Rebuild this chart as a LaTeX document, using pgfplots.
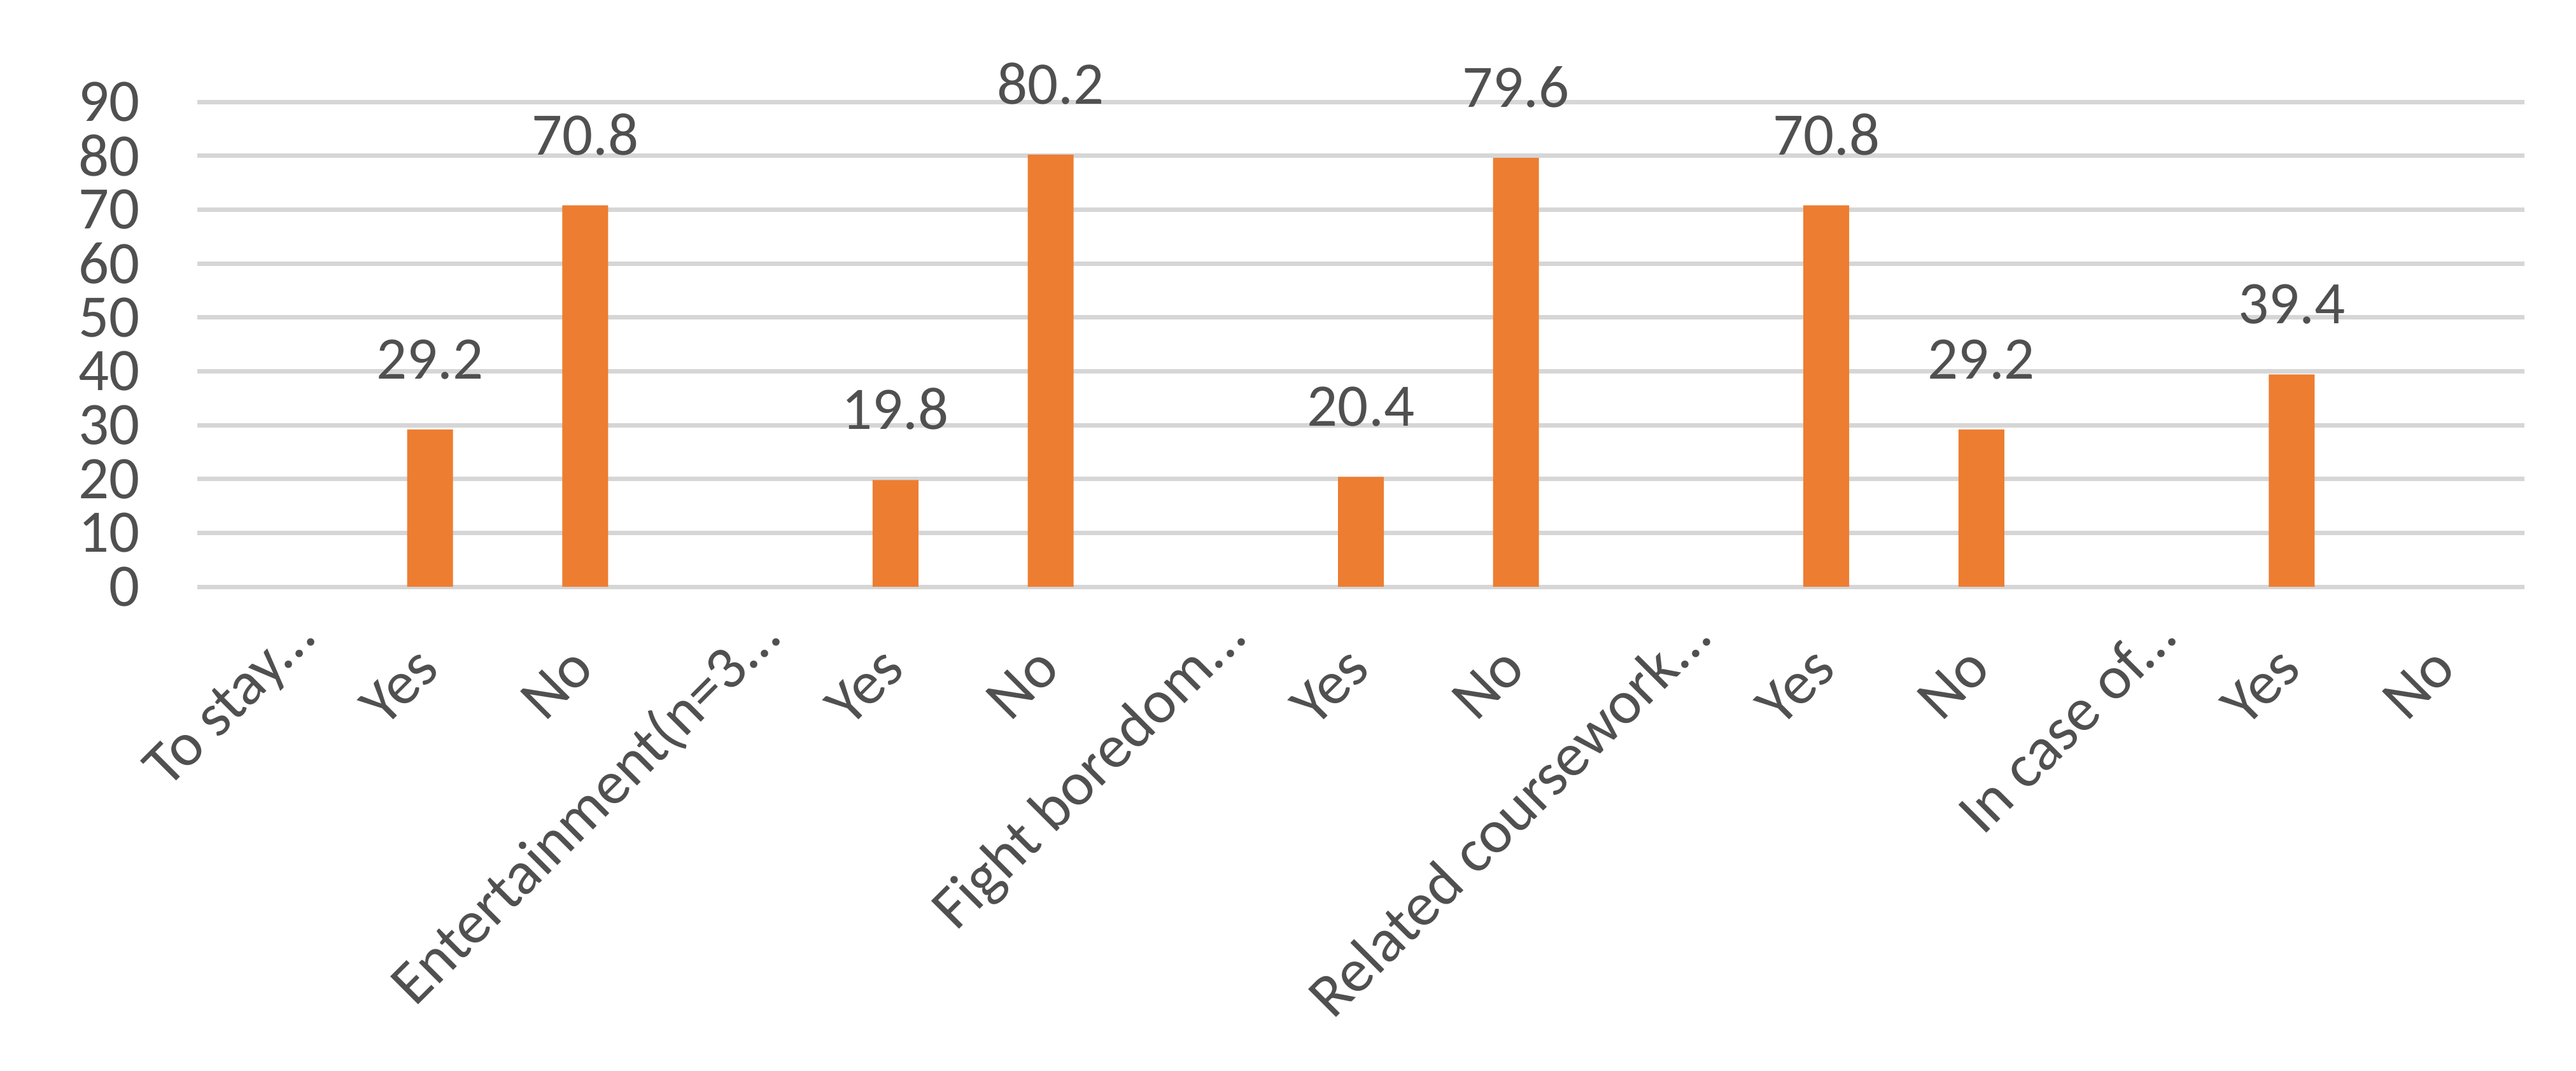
\documentclass[border=0pt]{standalone}
\usepackage{fontspec}
\setmainfont{Carlito}
\usepackage{pgfplots}
\pgfplotsset{compat=1.18}
\definecolor{barc}{HTML}{ED7D31}
\definecolor{txt}{HTML}{505050}
\definecolor{grd}{HTML}{D6D6D6}
\newcommand{\dd}{...}
\newcommand{\tsp}{\hspace*{0.72cm}}
\begin{document}
\begin{tikzpicture}
\fill[white] (-3.10cm,-7.60cm) rectangle (37.37cm,9.22cm);
\begin{axis}[
  at={(0,0)}, anchor=south west,
  scale only axis, width=36.56cm, height=7.62cm,
  xmin=-0.5, xmax=14.5, ymin=0, ymax=90,
  ybar, bar width=0.72cm,
  axis line style={draw=none},
  major tick length=0pt,
  ytick={0,10,...,90},
  ymajorgrids, major grid style={grd, line width=2pt},
  xtick={0,...,14},
  xticklabels={To stay\dd, Yes\tsp, No\tsp, Entertainment(n=3\dd, Yes\tsp, No\tsp, Fight boredom\dd, Yes\tsp, No\tsp, Related coursework\dd, Yes\tsp, No\tsp, In case of\dd, Yes\tsp, No\tsp},
  /pgf/number format/assume math mode=true,
  yticklabel style={font=\fontsize{27}{27}\selectfont, text=txt, inner sep=0pt, xshift=-0.90cm},
  xticklabel style={font=\fontsize{27.5}{27.5}\selectfont, text=txt, inner sep=0pt, xshift=0.69cm, yshift=-0.82cm, rotate=45, anchor=base east},
  point meta=explicit symbolic,
  nodes near coords,
  nodes near coords style={font=\fontsize{27}{27}\selectfont, text=txt, inner sep=0pt, anchor=south, yshift=0.78cm},
]
\addplot[fill=barc, draw=none] coordinates {
  (1,29.2) [29.2]
  (2,70.8) [70.8]
  (4,19.8) [19.8]
  (5,80.2) [80.2]
  (7,20.4) [20.4]
  (8,79.6) [79.6]
  (10,70.8) [70.8]
  (11,29.2) [29.2]
  (13,39.4) [39.4]
};
\end{axis}
\pgfresetboundingbox
\path[use as bounding box] (-3.10cm,-7.60cm) rectangle (37.37cm,9.22cm);
\end{tikzpicture}
\end{document}
